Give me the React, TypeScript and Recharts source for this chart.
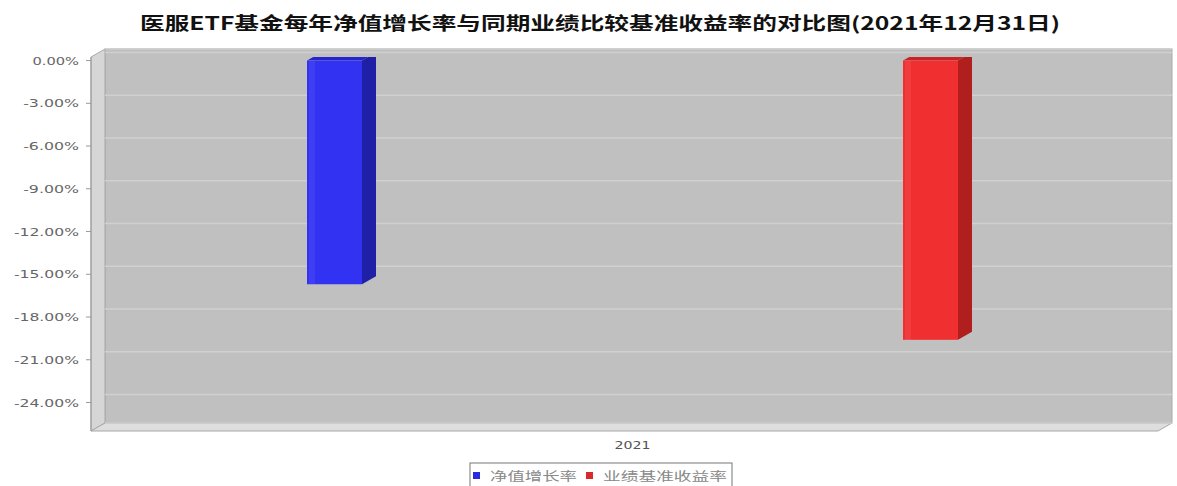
import { BarChart, Bar, XAxis, YAxis, CartesianGrid } from 'recharts';

const categories = ['2021'];
const navGrowth = [-15.7];
const benchmarkReturn = [-19.6];
const yTicks = [0, -3, -6, -9, -12, -15, -18, -21, -24];
const seriesNames = ['净值增长率', '业绩基准收益率'];
const title = '医服ETF基金每年净值增长率与同期业绩比较基准收益率的对比图(2021年12月31日)';

const data = categories.map((year, i) => ({
  year,
  nav: navGrowth[i],
  bench: benchmarkReturn[i],
}));

// chart frame
const W = 1177;
const H = 486;
const xAxisHeight = 30;
const margin = { top: 57, right: 19, bottom: 25, left: 0 };
const yAxisWidth = 91;
const plotL = margin.left + yAxisWidth;
const plotR = W - margin.right;
const plotT = margin.top;
const plotB = H - margin.bottom - xAxisHeight;
// 3d depth
const DX = 14;
const DY = -8;

const make3D = (front: string, side: string, top: string) => (props: any) => {
  const { x, y, width, height } = props;
  if (width == null || height == null) return null;
  const t = Math.min(y, y + height);
  const h = Math.abs(height);
  const r = x + width;
  return (
    <g>
      <polygon points={`${x},${t} ${x + DX},${t + DY} ${r + DX},${t + DY} ${r},${t}`} fill={top} />
      <polygon points={`${r},${t} ${r + DX},${t + DY} ${r + DX},${t + h + DY} ${r},${t + h}`} fill={side} />
      <rect x={x} y={t} width={width} height={h} fill={front} />
      <rect x={x + 2} y={t} width={6} height={h} fill="#ffffff" opacity={0.06} />
    </g>
  );
};

const blueShape = make3D('#3232f2', '#2020a6', '#2626c8');
const redShape = make3D('#f03030', '#b01e1e', '#c82424');

const YTick = (props: any) => {
  const { x, y, payload } = props;
  const label = `${Number(payload.value).toFixed(2)}%`;
  return (
    <text
      x={x}
      y={y}
      dy={4}
      textAnchor="end"
      fontSize={11}
      fill="#666"
      fontFamily="DejaVu Sans"
      textLength={label.length * 9.3}
      lengthAdjust="spacingAndGlyphs"
    >
      {label}
    </text>
  );
};

const XTick = (props: any) => {
  const { x, y, payload } = props;
  return (
    <text
      x={x}
      y={y}
      dy={14}
      textAnchor="middle"
      fontSize={11}
      fill="#555"
      fontFamily="DejaVu Sans"
      textLength={36}
      lengthAdjust="spacingAndGlyphs"
    >
      {payload.value}
    </text>
  );
};

const gridLine = (props: any) => {
  const { x1, x2, y1 } = props;
  return (
    <g key={props.key}>
      <line x1={x1 + DX} x2={x2 + DX} y1={y1 + DY} y2={y1 + DY} stroke="#d0d0d0" strokeWidth={1.5} />
    </g>
  );
};

export default function App() {
  return (
    <div style={{ position: 'absolute', left: 0, top: 0, width: W, height: H, background: '#fff' }}>
      <svg width={W} height={H} style={{ position: 'absolute', left: 0, top: 0 }}>
        <text
          x={600}
          y={30}
          textAnchor="middle"
          fontSize={18}
          fontWeight="bold"
          fill="#111"
          fontFamily="Noto Sans CJK SC"
          textLength={920}
          lengthAdjust="spacingAndGlyphs"
        >
          {title}
        </text>
        {/* back wall */}
        <rect x={plotL + DX} y={plotT + DY} width={plotR - plotL} height={plotB - plotT} fill="#c0c0c0" stroke="#aaa" />
        {/* left wall */}
        <polygon
          points={`${plotL},${plotT} ${plotL + DX},${plotT + DY} ${plotL + DX},${plotB + DY} ${plotL},${plotB}`}
          fill="#d6d6d6"
          stroke="#a8a8a8"
        />
        {/* floor */}
        <polygon
          points={`${plotL},${plotB} ${plotL + DX},${plotB + DY} ${plotR + DX},${plotB + DY} ${plotR},${plotB}`}
          fill="#dedede"
          stroke="#a8a8a8"
        />
        {/* legend */}
        <rect x={470} y={463} width={262} height={30} fill="#fff" stroke="#777" />
        <rect x={473} y={472} width={7} height={7} fill="#2a2ae0" />
        <text x={490} y={481} fontSize={12} fill="#888" fontFamily="Noto Sans CJK SC" textLength={87} lengthAdjust="spacingAndGlyphs">
          {seriesNames[0]}
        </text>
        <rect x={586} y={472} width={7} height={7} fill="#d82a2a" />
        <text x={603} y={481} fontSize={12} fill="#888" fontFamily="Noto Sans CJK SC" textLength={124} lengthAdjust="spacingAndGlyphs">
          {seriesNames[1]}
        </text>
      </svg>
      <div style={{ position: 'absolute', left: 0, top: 0 }}>
        <BarChart width={W} height={H} data={data} margin={margin} barSize={55} barGap={541}>
          <CartesianGrid vertical={false} horizontal={gridLine} fill="none" />
          <XAxis
            dataKey="year"
            height={xAxisHeight}
            axisLine={false}
            tickLine={false}
            tickSize={0}
            tickMargin={4}
            padding={{ left: 16, right: 0 }}
            tick={<XTick />}
          />
          <YAxis
            width={yAxisWidth}
            domain={[-26, 0.25]}
            ticks={yTicks}
            allowDataOverflow
            axisLine={{ stroke: '#999' }}
            tickLine={{ stroke: '#999' }}
            tickSize={5}
            tickMargin={7}
            tick={<YTick />}
          />
          <Bar dataKey="nav" name={seriesNames[0]} fill="#3232f2" shape={blueShape} isAnimationActive={false} />
          <Bar dataKey="bench" name={seriesNames[1]} fill="#f03030" shape={redShape} isAnimationActive={false} />
        </BarChart>
      </div>
    </div>
  );
}
